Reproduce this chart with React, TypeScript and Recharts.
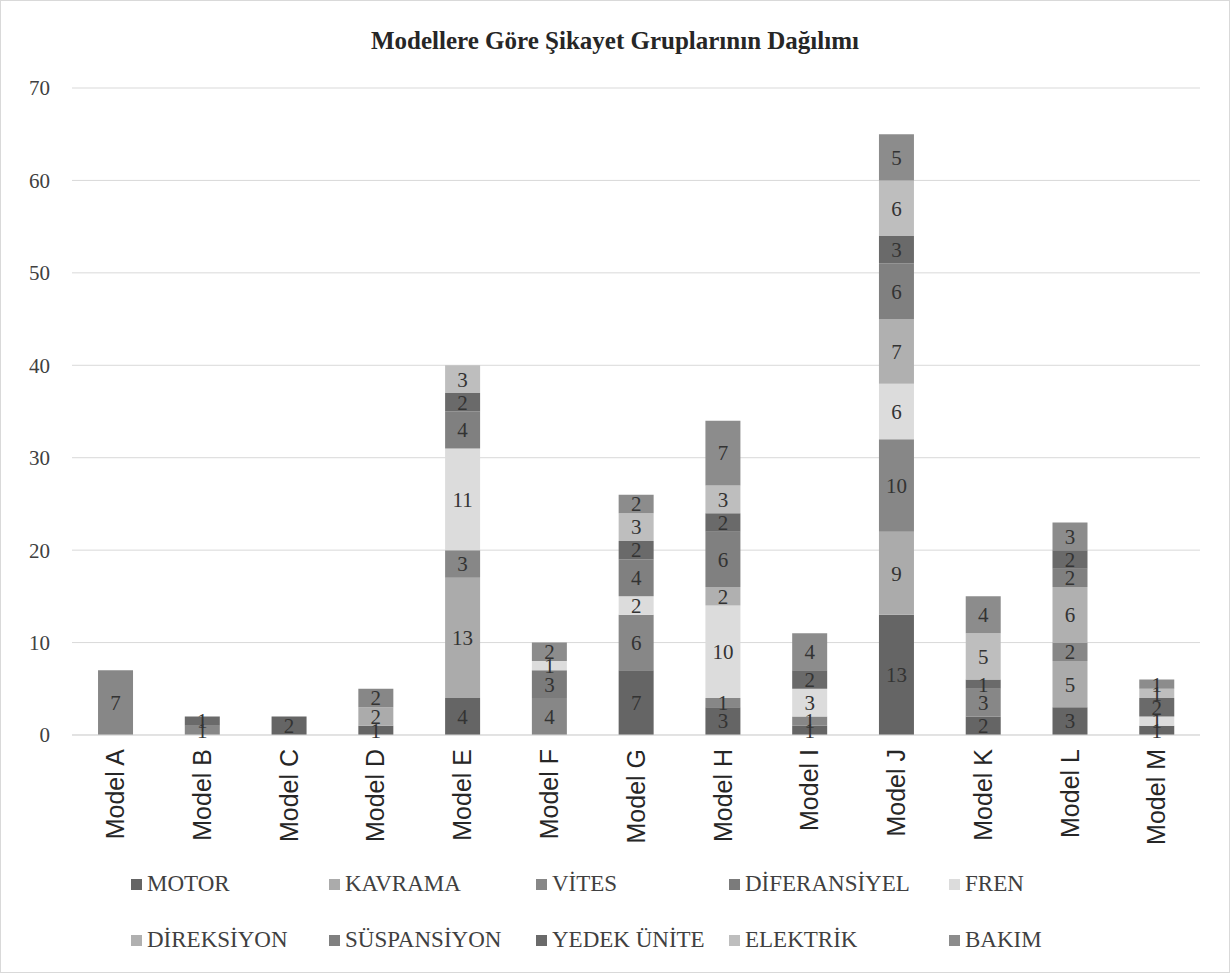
import { Bar, BarChart, CartesianGrid, LabelList, XAxis, YAxis } from "recharts";

const MODELS = [
    "Model A", "Model B", "Model C", "Model D", "Model E", "Model F", "Model G",
    "Model H", "Model I", "Model J", "Model K", "Model L", "Model M",
];

const MOTOR = [0, 0, 2, 1, 4, 0, 7, 3, 1, 13, 2, 3, 1];
const KAVRAMA = [0, 0, 0, 2, 13, 0, 0, 0, 0, 9, 0, 5, 0];
const VITES = [7, 1, 0, 2, 3, 4, 6, 1, 1, 10, 3, 2, 0];
const DIFERANSIYEL = [0, 0, 0, 0, 0, 3, 0, 0, 0, 0, 0, 0, 0];
const FREN = [0, 0, 0, 0, 11, 1, 2, 10, 3, 6, 0, 0, 1];
const DIREKSIYON = [0, 0, 0, 0, 0, 0, 0, 2, 0, 7, 0, 6, 0];
const SUSPANSIYON = [0, 0, 0, 0, 4, 0, 4, 6, 0, 6, 0, 2, 0];
const YEDEK_UNITE = [0, 1, 0, 0, 2, 0, 2, 2, 2, 3, 1, 2, 2];
const ELEKTRIK = [0, 0, 0, 0, 3, 0, 3, 3, 0, 6, 5, 0, 1];
const BAKIM = [0, 0, 0, 0, 0, 2, 2, 7, 4, 5, 4, 3, 1];

const Y_TICKS = [0, 10, 20, 30, 40, 50, 60, 70];

const SERIES = [
    { key: "MOTOR", values: MOTOR, color: "#656565" },
    { key: "KAVRAMA", values: KAVRAMA, color: "#ababab" },
    { key: "VİTES", values: VITES, color: "#878787" },
    { key: "DİFERANSİYEL", values: DIFERANSIYEL, color: "#7b7b7b" },
    { key: "FREN", values: FREN, color: "#dcdcdc" },
    { key: "DİREKSİYON", values: DIREKSIYON, color: "#b0b0b0" },
    { key: "SÜSPANSİYON", values: SUSPANSIYON, color: "#808080" },
    { key: "YEDEK ÜNİTE", values: YEDEK_UNITE, color: "#6a6a6a" },
    { key: "ELEKTRİK", values: ELEKTRIK, color: "#bebebe" },
    { key: "BAKIM", values: BAKIM, color: "#8c8c8c" },
];

// legend column widths, excel spaces them unevenly
const LEGEND_COLS = [198, 207, 193, 220, 150];

const SERIF = "'Liberation Serif', 'Times New Roman', serif";

const data = MODELS.map((name, i) => {
    const row: Record<string, string | number> = { name };
    SERIES.forEach((s) => {
        row[s.key] = s.values[i];
    });
    return row;
});

function SegmentLabel(props: any) {
    const { x, y, width, height, value } = props;
    if (!value) return null;
    return (
        <text
            x={x + width / 2}
            y={y + height / 2}
            dy="0.35em"
            textAnchor="middle"
            fill="#333"
            fontFamily={SERIF}
            fontSize={21}
        >
            {value}
        </text>
    );
}

function ModelTick(props: any) {
    const { x, y, payload } = props;
    return (
        <g transform={`translate(${x},${y})`}>
            <text
                transform="rotate(-90)"
                x={0}
                y={0}
                dy="0.35em"
                textAnchor="end"
                fill="#262626"
                fontFamily="'Liberation Sans', Arial, sans-serif"
                fontSize={25}
            >
                {payload.value}
            </text>
        </g>
    );
}

export default function App() {
    return (
        <div
            style={{
                position: "fixed",
                left: 0,
                top: 0,
                width: 1230,
                height: 973,
                background: "#fff",
                border: "1px solid #d9d9d9",
                boxSizing: "border-box",
                fontFamily: SERIF,
            }}
        >
            <div
                style={{
                    position: "absolute",
                    top: 26,
                    left: 0,
                    width: "100%",
                    textAlign: "center",
                    fontSize: 25,
                    fontWeight: "bold",
                    color: "#262626",
                }}
            >
                Modellere Göre Şikayet Gruplarının Dağılımı
            </div>

            <div style={{ position: "absolute", left: -1, top: -1 }}>
                <BarChart
                    width={1230}
                    height={973}
                    data={data}
                    margin={{ top: 88, right: 30, left: 0, bottom: 113 }}
                    barCategoryGap="30%"
                >
                    <CartesianGrid vertical={false} stroke="#d9d9d9" />
                    <XAxis
                        dataKey="name"
                        height={125}
                        interval={0}
                        tickLine={false}
                        axisLine={{ stroke: "#d9d9d9" }}
                        tickMargin={8}
                        tick={<ModelTick />}
                    />
                    <YAxis
                        width={72}
                        domain={[0, 70]}
                        ticks={Y_TICKS}
                        axisLine={false}
                        tickLine={false}
                        tickSize={0}
                        tickMargin={22}
                        tick={{ fill: "#404040", fontFamily: SERIF, fontSize: 21 }}
                    />
                    {SERIES.map((s) => (
                        <Bar
                            key={s.key}
                            dataKey={s.key}
                            stackId="a"
                            fill={s.color}
                            isAnimationActive={false}
                        >
                            <LabelList dataKey={s.key} content={<SegmentLabel />} />
                        </Bar>
                    ))}
                </BarChart>
            </div>

            <div
                style={{
                    position: "absolute",
                    left: 130,
                    top: 870,
                    display: "grid",
                    gridTemplateColumns: LEGEND_COLS.map((w) => `${w}px`).join(" "),
                    rowGap: 30,
                    fontSize: 23,
                    lineHeight: "26px",
                    color: "#404040",
                }}
            >
                {SERIES.map((s) => (
                    <div key={s.key} style={{ display: "flex", alignItems: "center", whiteSpace: "nowrap" }}>
                        <span
                            style={{
                                display: "inline-block",
                                width: 11,
                                height: 11,
                                background: s.color,
                                marginRight: 5,
                            }}
                        />
                        {s.key}
                    </div>
                ))}
            </div>
        </div>
    );
}
